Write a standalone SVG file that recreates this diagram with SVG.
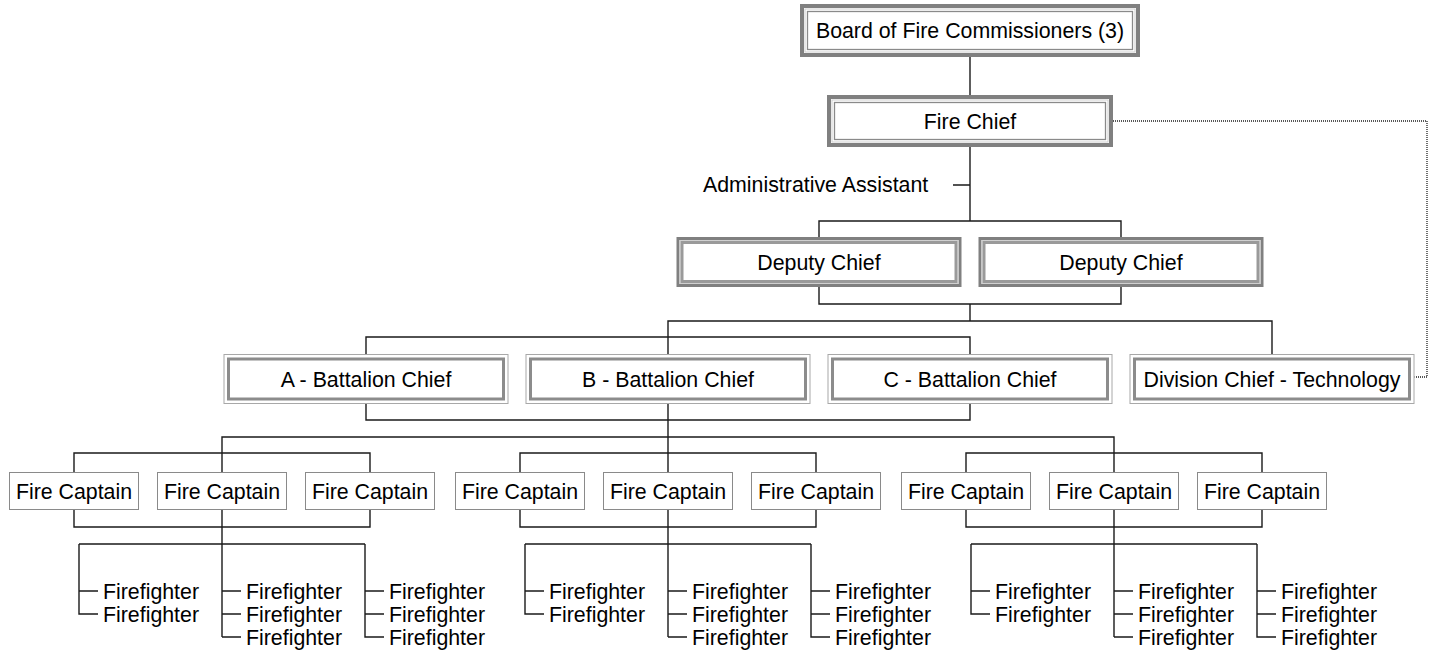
<svg xmlns="http://www.w3.org/2000/svg" width="1432" height="655" viewBox="0 0 1432 655">
<style>
text{font-family:"Liberation Sans",Arial,sans-serif;font-size:21.33px;fill:#000}
.c{text-anchor:middle}
.a1{fill:#fff;stroke:#808080;stroke-width:4}
.a2{fill:none;stroke:#cfcfcf;stroke-width:1}
.a3{fill:none;stroke:#8a8a8a;stroke-width:1.3}
.b1{fill:#fff;stroke:#808080;stroke-width:3}
.b2{fill:none;stroke:#d0d0d0;stroke-width:1}
.b3{fill:none;stroke:#9a9a9a;stroke-width:3}
.c1{fill:#fff;stroke:#a8a8a8;stroke-width:1}
.c3{fill:none;stroke:#8c8c8c;stroke-width:3}
.cap{fill:#fff;stroke:#8a8a8a;stroke-width:1}
.ln{fill:none;stroke:#1a1a1a;stroke-width:1.4}
.dot{fill:none;stroke:#222;stroke-width:1.3;stroke-dasharray:1 1}
</style>
<rect width="1432" height="655" fill="#fff"/>
<g id="connectors">
<path class="ln" d="M970 57V95M970 147V221M819 237V221H1121V237M819 287V304H1121V287M970 304V321M668 354V321H1272V354M366 354V337H970V354M366 404V420H970V404M668 404V472M222 472V437H1114V472M74 472V453H370V472M520 472V453H816V472M966 472V453H1262V472M953 185H970"/>
<path class="ln" d="M74 510V527H370V510M222 510V544M79 544H365M79 544V614H98M79 591H98M222 591H241M222 614H241M222 637H241M222 544V637M365 544V637H384M365 591H384M365 614H384"/>
<path class="ln" d="M520 510V527H816V510M668 510V544M525 544H811M525 544V614H544M525 591H544M668 591H687M668 614H687M668 637H687M668 544V637M811 544V637H830M811 591H830M811 614H830"/>
<path class="ln" d="M966 510V527H1262V510M1114 510V544M971 544H1257M971 544V614H990M971 591H990M1114 591H1133M1114 614H1133M1114 637H1133M1114 544V637M1257 544V637H1276M1257 591H1276M1257 614H1276"/>
<path class="dot" d="M1113 121H1427V377H1414.5"/>
</g>
<g id="board">
<rect class="a1" x="802" y="6" width="336" height="49"/>
<rect class="a2" x="805" y="9" width="330" height="43"/>
<rect class="a3" x="807.5" y="11.5" width="325" height="38"/>
<text class="c" x="970" y="38">Board of Fire Commissioners (3)</text>
</g>
<g id="fire-chief">
<rect class="a1" x="829" y="97" width="282" height="48"/>
<rect class="a2" x="832" y="100" width="276" height="42"/>
<rect class="a3" x="834.5" y="102.5" width="271" height="37"/>
<text class="c" x="970" y="129">Fire Chief</text>
</g>
<g id="admin-assistant">
<text x="703" y="192">Administrative Assistant</text>
</g>
<g id="deputy-1">
<rect class="b1" x="678" y="238.5" width="282" height="47"/>
<rect class="b2" x="680" y="240.5" width="278" height="43"/>
<rect class="b3" x="682" y="242.5" width="274" height="39"/>
<text class="c" x="819" y="269.5">Deputy Chief</text>
</g>
<g id="deputy-2">
<rect class="b1" x="980" y="238.5" width="282" height="47"/>
<rect class="b2" x="982" y="240.5" width="278" height="43"/>
<rect class="b3" x="984" y="242.5" width="274" height="39"/>
<text class="c" x="1121" y="269.5">Deputy Chief</text>
</g>
<g id="battalion-a">
<rect class="c1" x="224" y="354.5" width="284" height="49"/>
<rect class="c3" x="228.5" y="359" width="275" height="40"/>
<text class="c" x="366" y="387">A - Battalion Chief</text>
</g>
<g id="battalion-b">
<rect class="c1" x="526" y="354.5" width="284" height="49"/>
<rect class="c3" x="530.5" y="359" width="275" height="40"/>
<text class="c" x="668" y="387">B - Battalion Chief</text>
</g>
<g id="battalion-c">
<rect class="c1" x="828" y="354.5" width="284" height="49"/>
<rect class="c3" x="832.5" y="359" width="275" height="40"/>
<text class="c" x="970" y="387">C - Battalion Chief</text>
</g>
<g id="division-chief">
<rect class="c1" x="1130" y="354.5" width="284" height="49"/>
<rect class="c3" x="1134.5" y="359" width="275" height="40"/>
<text class="c" x="1272" y="387">Division Chief - Technology</text>
</g>
<g id="captain-1"><rect class="cap" x="9.5" y="472.5" width="129" height="37"/><text class="c" x="74" y="498.5">Fire Captain</text></g>
<g id="captain-2"><rect class="cap" x="157.5" y="472.5" width="129" height="37"/><text class="c" x="222" y="498.5">Fire Captain</text></g>
<g id="captain-3"><rect class="cap" x="305.5" y="472.5" width="129" height="37"/><text class="c" x="370" y="498.5">Fire Captain</text></g>
<g id="captain-4"><rect class="cap" x="455.5" y="472.5" width="129" height="37"/><text class="c" x="520" y="498.5">Fire Captain</text></g>
<g id="captain-5"><rect class="cap" x="603.5" y="472.5" width="129" height="37"/><text class="c" x="668" y="498.5">Fire Captain</text></g>
<g id="captain-6"><rect class="cap" x="751.5" y="472.5" width="129" height="37"/><text class="c" x="816" y="498.5">Fire Captain</text></g>
<g id="captain-7"><rect class="cap" x="901.5" y="472.5" width="129" height="37"/><text class="c" x="966" y="498.5">Fire Captain</text></g>
<g id="captain-8"><rect class="cap" x="1049.5" y="472.5" width="129" height="37"/><text class="c" x="1114" y="498.5">Fire Captain</text></g>
<g id="captain-9"><rect class="cap" x="1197.5" y="472.5" width="129" height="37"/><text class="c" x="1262" y="498.5">Fire Captain</text></g>
<g id="firefighters-1">
<text x="103" y="598.5">Firefighter</text><text x="103" y="621.5">Firefighter</text>
<text x="246" y="598.5">Firefighter</text><text x="246" y="621.5">Firefighter</text><text x="246" y="644.5">Firefighter</text>
<text x="389" y="598.5">Firefighter</text><text x="389" y="621.5">Firefighter</text><text x="389" y="644.5">Firefighter</text>
</g>
<g id="firefighters-2">
<text x="549" y="598.5">Firefighter</text><text x="549" y="621.5">Firefighter</text>
<text x="692" y="598.5">Firefighter</text><text x="692" y="621.5">Firefighter</text><text x="692" y="644.5">Firefighter</text>
<text x="835" y="598.5">Firefighter</text><text x="835" y="621.5">Firefighter</text><text x="835" y="644.5">Firefighter</text>
</g>
<g id="firefighters-3">
<text x="995" y="598.5">Firefighter</text><text x="995" y="621.5">Firefighter</text>
<text x="1138" y="598.5">Firefighter</text><text x="1138" y="621.5">Firefighter</text><text x="1138" y="644.5">Firefighter</text>
<text x="1281" y="598.5">Firefighter</text><text x="1281" y="621.5">Firefighter</text><text x="1281" y="644.5">Firefighter</text>
</g>
</svg>
